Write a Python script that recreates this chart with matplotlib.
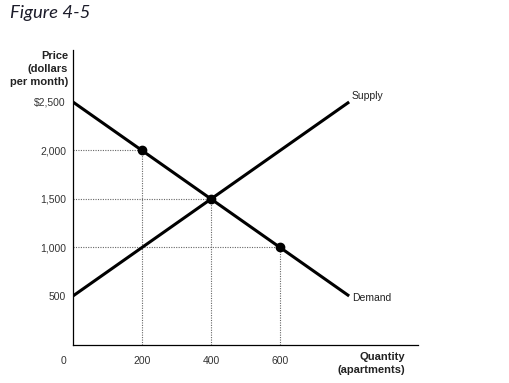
import matplotlib.pyplot as plt
import matplotlib.transforms as mtransforms

# market for apartments
quantity = [0, 800]
supply_price = [500, 2500]
demand_price = [2500, 500]

point_q = [200, 400, 600]
point_p = [2000, 1500, 1000]

x_ticks = [0, 200, 400, 600]
x_labels = ['0', '200', '400', '600']
y_ticks = [500, 1000, 1500, 2000, 2500]
y_labels = ['500', '1,000', '1,500', '2,000', '$2,500']

plt.rcParams['font.family'] = ['Liberation Sans', 'DejaVu Sans']

fig = plt.figure(figsize=(5.1, 3.83), dpi=100)
ax = fig.add_axes([0.143, 0.1005, 0.677, 0.769])

# dotted guides
guide_q = [200, 400, 600]
guide_p = [2000, 1500, 1000]
for q, p in zip(guide_q, guide_p):
    ax.plot([0, q], [p, p], color='#666666', lw=0.8, ls=(0, (1, 1.2)))
    ax.plot([q, q], [0, p], color='#666666', lw=0.8, ls=(0, (1, 1.2)))

ax.plot(quantity, supply_price, color='black', lw=2.2, solid_capstyle='butt')
ax.plot(quantity, demand_price, color='black', lw=2.2, solid_capstyle='butt')
ax.plot(point_q, point_p, 'o', color='black', ms=6)

ax.text(808, 2562, 'Supply', fontsize=7.5, ha='left', va='center', color='#222222')
ax.text(808, 479, 'Demand', fontsize=7.5, ha='left', va='center', color='#222222')

ax.set_xlim(0, 1000)
ax.set_ylim(0, 3036)
ax.set_xticks(x_ticks)
ax.set_xticklabels(x_labels)
ax.set_yticks(y_ticks)
ax.set_yticklabels(y_labels)
ax.tick_params(axis='both', length=0, labelsize=7.5, labelcolor='#333333')
ax.tick_params(axis='x', pad=8)
ax.tick_params(axis='y', pad=5)

# shift the zero label left of the axis
zero_lab = ax.get_xticklabels()[0]
zero_lab.set_transform(zero_lab.get_transform() +
                       mtransforms.ScaledTranslation(-9 / 100, 0, fig.dpi_scale_trans))

for s in ['top', 'right']:
    ax.spines[s].set_visible(False)
ax.spines['left'].set_linewidth(0.9)
ax.spines['bottom'].set_linewidth(0.9)

fig.text(68 / 510, 1 - 51 / 383, 'Price\n(dollars\nper month)', fontsize=8,
         fontweight='bold', ha='right', va='top', color='#222222', linespacing=1.35)
fig.text(405 / 510, 1 - 352 / 383, 'Quantity\n(apartments)', fontsize=8,
         fontweight='bold', ha='right', va='top', color='#222222', linespacing=1.35)

fig.text(10 / 510, 1 - 5 / 383, 'Figure 4-5', fontsize=13.3, style='italic',
         family=['Lato', 'DejaVu Sans'], ha='left', va='top', color='#1c1c2a')

fig.savefig('out.png', dpi=100)
